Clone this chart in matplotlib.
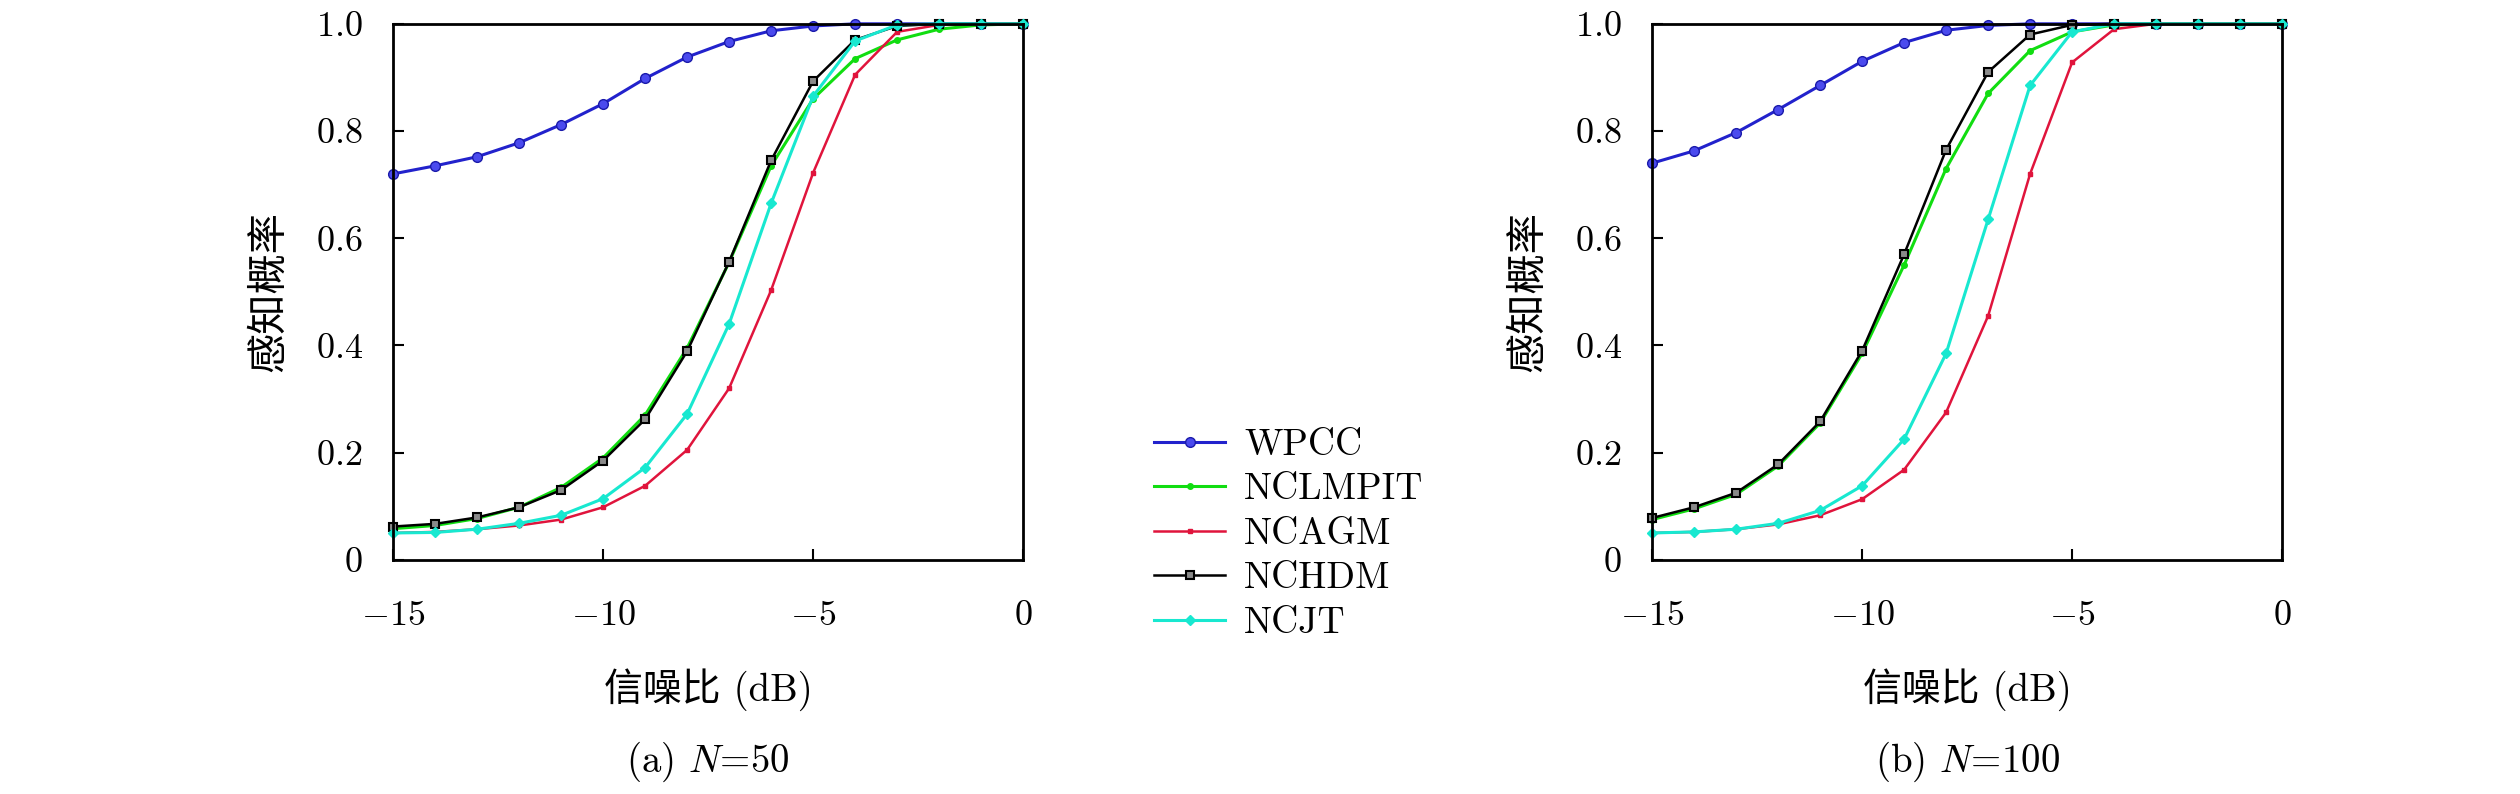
import matplotlib
matplotlib.use("Agg")
import matplotlib.pyplot as plt
import numpy as np

plt.rcParams['font.family'] = ['cmr10', 'Noto Sans CJK SC', 'DejaVu Sans']
plt.rcParams['mathtext.fontset'] = 'cm'
plt.rcParams['axes.unicode_minus'] = False

snr = np.arange(-15, 1)

# (a) N=50
wpcc_a = [0.72, 0.735, 0.752, 0.778, 0.812, 0.851, 0.898, 0.938, 0.967, 0.987, 0.996, 1.0, 1.0, 1.0, 1.0, 1.0]
nclmpit_a = [0.058, 0.064, 0.077, 0.098, 0.135, 0.19, 0.27, 0.395, 0.555, 0.735, 0.86, 0.935, 0.97, 0.99, 0.998, 1.0]
ncagm_a = [0.05, 0.052, 0.057, 0.064, 0.075, 0.098, 0.138, 0.205, 0.32, 0.503, 0.722, 0.905, 0.985, 0.998, 1.0, 1.0]
nchdm_a = [0.062, 0.067, 0.079, 0.098, 0.130, 0.185, 0.262, 0.389, 0.556, 0.745, 0.893, 0.970, 0.996, 1.0, 1.0, 1.0]
ncjt_a = [0.05, 0.051, 0.057, 0.068, 0.083, 0.114, 0.172, 0.272, 0.44, 0.665, 0.865, 0.968, 0.998, 1.0, 1.0, 1.0]

# (b) N=100
wpcc_b = [0.74, 0.763, 0.797, 0.84, 0.885, 0.93, 0.965, 0.988, 0.997, 1.0, 1.0, 1.0, 1.0, 1.0, 1.0, 1.0]
nclmpit_b = [0.075, 0.095, 0.122, 0.175, 0.255, 0.385, 0.55, 0.73, 0.87, 0.95, 0.985, 0.998, 1.0, 1.0, 1.0, 1.0]
ncagm_b = [0.05, 0.052, 0.057, 0.066, 0.083, 0.113, 0.168, 0.275, 0.455, 0.72, 0.928, 0.99, 1.0, 1.0, 1.0, 1.0]
nchdm_b = [0.078, 0.098, 0.125, 0.178, 0.258, 0.39, 0.57, 0.765, 0.91, 0.98, 0.998, 1.0, 1.0, 1.0, 1.0, 1.0]
ncjt_b = [0.05, 0.052, 0.057, 0.068, 0.092, 0.138, 0.225, 0.385, 0.635, 0.885, 0.985, 1.0, 1.0, 1.0, 1.0, 1.0]

names = ['WPCC', 'NCLMPIT', 'NCAGM', 'NCHDM', 'NCJT']
xticks = [-15, -10, -5, 0]
xticklabels = ['$-15$', '$-10$', '$-5$', '$0$']
yticks = [0, 0.2, 0.4, 0.6, 0.8, 1.0]
yticklabels = ['$0$', '$0.2$', '$0.4$', '$0.6$', '$0.8$', '$1.0$']
captions = ['(a) $N$=50', '(b) $N$=100']

styles = [
    dict(color='#2222cc', marker='o', markersize=7, markerfacecolor='#4a4aee', markeredgecolor='#1a1aaa', lw=2.2),
    dict(color='#11dd11', marker='o', markersize=4, lw=2.2),
    dict(color='#e0143c', marker='s', markersize=3.5, lw=1.8),
    dict(color='black', marker='s', markersize=5.5, markerfacecolor='#8a8a8a', markeredgecolor='black', markeredgewidth=1.5, lw=1.8),
    dict(color='#18e8d0', marker='D', markersize=5, lw=2.2),
]

fig = plt.figure(figsize=(25.2, 7.94), dpi=100)
positions = [[0.156, 0.295, 0.25, 0.675], [0.6556, 0.295, 0.25, 0.675]]
data = [[wpcc_a, nclmpit_a, ncagm_a, nchdm_a, ncjt_a],
        [wpcc_b, nclmpit_b, ncagm_b, nchdm_b, ncjt_b]]

for i in range(2):
    ax = fig.add_axes(positions[i])
    for name, ys, st in zip(names, data[i], styles):
        ax.plot(snr, ys, label=name, clip_on=False, **st)
    ax.set_xlim(-15, 0)
    ax.set_ylim(0, 1.0)
    ax.set_xticks(xticks)
    ax.set_xticklabels(xticklabels)
    ax.set_yticks(yticks)
    ax.set_yticklabels(yticklabels)
    ax.tick_params(direction='in', length=8, width=1.5, labelsize=26)
    ax.tick_params(axis='y', pad=22)
    ax.tick_params(axis='x', pad=29)
    for sp in ax.spines.values():
        sp.set_linewidth(2)
    ax.set_xlabel('信噪比 (dB)', fontsize=28, labelpad=26)
    ax.set_ylabel('感知概率', fontsize=29, labelpad=20)
    fig.text(positions[i][0] + positions[i][2] / 2, 0.012, captions[i], fontsize=28, ha='center', va='bottom')
    if i == 0:
        handles, labels = ax.get_legend_handles_labels()

fig.legend(handles, labels, loc='center left', bbox_to_anchor=(0.452, 0.327), frameon=False,
           fontsize=27, handlelength=1.9, handletextpad=0.5, labelspacing=0.3, borderaxespad=0)

fig.savefig('out.png', dpi=100, facecolor='white')
